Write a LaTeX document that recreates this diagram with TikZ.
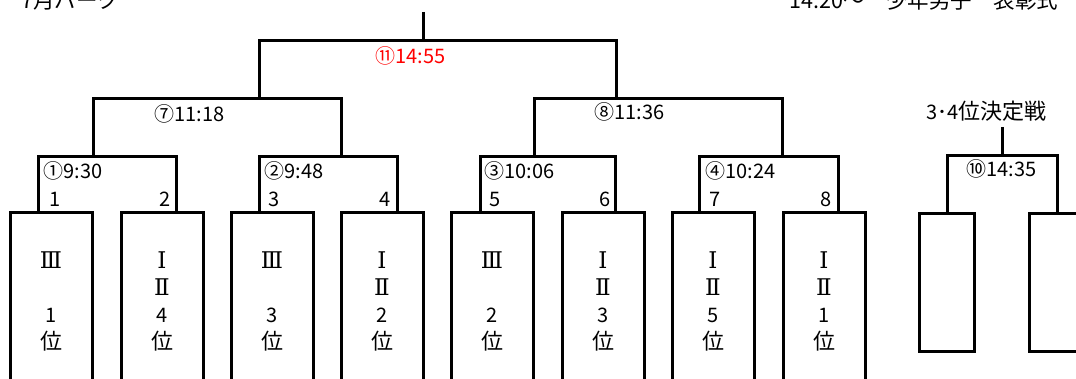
\documentclass[tikz,border=0pt]{standalone}
\usepackage{fontspec}
\setmainfont{Noto Sans CJK JP}
\newfontfamily\romfont{DejaVu Serif}
\newcommand\romI{{\romfont\fontsize{23}{27}\selectfont Ⅰ}}
\newcommand\romII{{\romfont\fontsize{23}{27}\selectfont Ⅱ}}
\newcommand\romIII{{\romfont\fontsize{23}{27}\selectfont Ⅲ}}
\newcommand\rankpos{{\fontsize{22}{27}\selectfont 位}}
\begin{document}
\begin{tikzpicture}[x=1pt,y=-1pt,line width=3pt,
  team/.style={draw,line width=3pt,minimum width=82pt,minimum height=176pt,
    anchor=north west,inner sep=0pt,outer sep=0pt,align=center,
    font=\fontsize{20}{27}\selectfont},
  emptybox/.style={draw,line width=3pt,minimum width=55pt,minimum height=137pt,
    anchor=north west,inner sep=0pt,outer sep=0pt},
  lbl/.style={font=\fontsize{20}{24}\selectfont,anchor=base west,inner sep=0pt},
  slotnum/.style={font=\fontsize{20}{24}\selectfont,anchor=base,inner sep=0pt},
  hdr/.style={font=\fontsize{21.5}{24}\selectfont,anchor=base west,inner sep=0pt}]
\useasboundingbox (0,0) rectangle (1076,379);

% header texts (cut off at the top)
\node[hdr] (hdrL) at (20,9) {7月パーク};
\node[hdr] (hdrR) at (788,9) {14:20～　少年男子　表彰式};

% team boxes
\node[team] (t1) at (10,213) {\romIII\\\mbox{}\\1\\\rankpos};
\node[team] (t2) at (121,213) {\romI\\\romII\\4\\\rankpos};
\node[team] (t3) at (231,213) {\romIII\\\mbox{}\\3\\\rankpos};
\node[team] (t4) at (341,213) {\romI\\\romII\\2\\\rankpos};
\node[team] (t5) at (451,213) {\romIII\\\mbox{}\\2\\\rankpos};
\node[team] (t6) at (562,213) {\romI\\\romII\\3\\\rankpos};
\node[team] (t7) at (672,213) {\romI\\\romII\\5\\\rankpos};
\node[team] (t8) at (783,213) {\romI\\\romII\\1\\\rankpos};
\node[emptybox] (t9) at (919,214) {};
\node[emptybox] (t10) at (1029,214) {};

% bracket coordinates
\coordinate (m1a) at (38,157);  \coordinate (m1b) at (176,157);
\coordinate (m2a) at (259,157); \coordinate (m2b) at (397,157);
\coordinate (m3a) at (480,157); \coordinate (m3b) at (615,157);
\coordinate (m4a) at (699,157); \coordinate (m4b) at (838,157);
\coordinate (m7a) at (93,99);   \coordinate (m7b) at (341,99);
\coordinate (m8a) at (534,99);  \coordinate (m8b) at (782,99);
\coordinate (m11a) at (259,41); \coordinate (m11b) at (616,41);
\coordinate (topend) at (423,12);
\coordinate (m10a) at (947,156); \coordinate (m10b) at (1057,156);
\coordinate (m10top) at (1002,127);

% first round
\draw (t1.north -| m1a) |- (m1b) -- (t2.north -| m1b);
\draw (t3.north -| m2a) |- (m2b) -- (t4.north -| m2b);
\draw (t5.north -| m3a) |- (m3b) -- (t6.north -| m3b);
\draw (t7.north -| m4a) |- (m4b) -- (t8.north -| m4b);
% semifinals
\draw (m1a -| m7a) |- (m7b) -- (m2a -| m7b);
\draw (m3a -| m8a) |- (m8b) -- (m4a -| m8b);
% final
\draw (m7a -| m11a) |- (m11b) -- (m8a -| m11b);
\draw (topend) -- (topend |- m11a);
% third place match
\draw (t9.north -| m10a) |- (m10b) -- (t10.north -| m10b);
\draw (m10top) -- (m10top |- m10a);

% match labels
\node[lbl,text=red] (l11) at (374,64) {⑪14:55};
\node[lbl] (l7) at (153,122) {⑦11:18};
\node[lbl] (l8) at (593,120) {⑧11:36};
\node[lbl] (l1) at (42,179) {①9:30};
\node[lbl] (l2) at (263,179) {②9:48};
\node[lbl] (l3) at (483,179) {③10:06};
\node[lbl] (l4) at (704,179) {④10:24};
\node[lbl] (l10) at (965,177) {⑩14:35};
\node[lbl] (l34) at (925,120) {3･4{\fontsize{22}{24}\selectfont 位決定戦}};

% slot numbers
\node[slotnum] (s1) at (55,207) {1};
\node[slotnum] (s2) at (165,207) {2};
\node[slotnum] (s3) at (274,207) {3};
\node[slotnum] (s4) at (385,207) {4};
\node[slotnum] (s5) at (495,207) {5};
\node[slotnum] (s6) at (605,207) {6};
\node[slotnum] (s7) at (715,207) {7};
\node[slotnum] (s8) at (826,207) {8};
\end{tikzpicture}
\end{document}
